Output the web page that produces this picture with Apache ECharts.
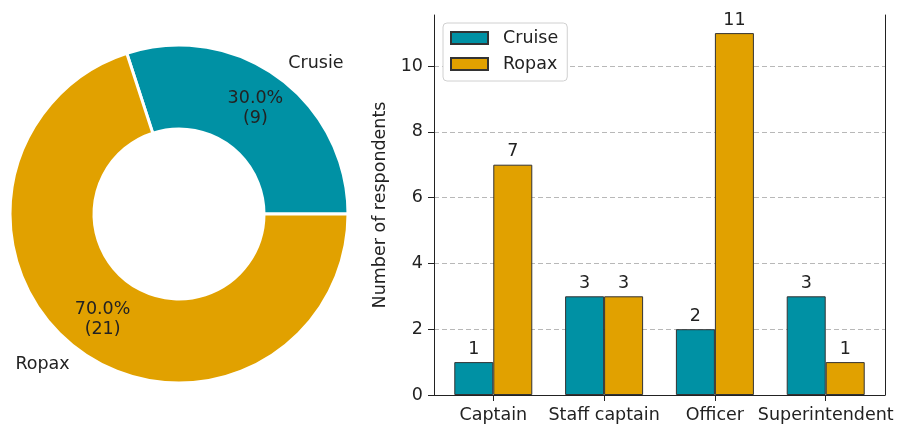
<!DOCTYPE html>
<html>
<head>
<meta charset="utf-8">
<script src="https://cdn.jsdelivr.net/npm/echarts@6/dist/echarts.min.js"></script>
<style>
  html, body { margin: 0; padding: 0; background: #fff; }
  #main { width: 897px; height: 431px; }
</style>
</head>
<body>
<div id="main"></div>
<script>
// pie data
var pieNames = ['Crusie', 'Ropax'];
var pieValues = [9, 21];

// bar data
var roles = ['Captain', 'Staff captain', 'Officer', 'Superintendent'];
var cruise = [1, 3, 2, 3];
var ropax = [7, 3, 11, 1];
var yTicks = [0, 2, 4, 6, 8, 10];

var teal = '#0091A4';
var gold = '#E1A100';
var font = 'DejaVu Sans';
var fs = 17.5;

function pairs(arr) {
    return arr.map(function (v, i) { return [i, v]; });
}

var pieData = pieNames.map(function (n, i) { return { name: n, value: pieValues[i] }; });

let option = {
    animation: false,
    textStyle: { fontFamily: font },
    legend: {
        data: ['Cruise', 'Ropax'],
        orient: 'vertical',
        left: 443,
        top: 23,
        icon: 'rect',
        itemWidth: 37,
        itemHeight: 12,
        itemGap: 8,
        padding: [6, 9, 8, 7],
        borderColor: '#d0d0d0',
        borderWidth: 1,
        borderRadius: 4,
        backgroundColor: '#fff',
        textStyle: { fontSize: fs, lineHeight: 18, color: '#222', padding: [0, 0, 0, 10] }
    },
    grid: { left: 434, right: 12, top: 15, bottom: 36 },
    xAxis: {
        type: 'value',
        min: -0.535,
        max: 3.535,
        axisLine: { show: true, lineStyle: { color: '#222' } },
        axisTick: { show: true, length: 6, customValues: [0, 1, 2, 3], lineStyle: { color: '#222' } },
        axisLabel: {
            customValues: [0, 1, 2, 3],
            fontSize: fs, color: '#222', margin: 11,
            formatter: function (v) { return roles[Math.round(v)]; }
        },
        splitLine: { show: false }
    },
    yAxis: [{
        type: 'value',
        min: 0,
        max: 11.55,
        name: 'Number of respondents',
        nameLocation: 'middle',
        nameGap: 42,
        nameTextStyle: { fontSize: fs, color: '#222' },
        axisLine: { show: true, onZero: false, lineStyle: { color: '#222' } },
        axisTick: { show: true, length: 6, customValues: yTicks, lineStyle: { color: '#222' } },
        axisLabel: { customValues: yTicks, fontSize: fs, color: '#222', margin: 11 },
        splitLine: { show: true, lineStyle: { color: '#b8b8b8', type: [5, 3] } }
    }, {
        type: 'value',
        min: 0,
        max: 11.55,
        position: 'right',
        axisLine: { show: true, onZero: false, lineStyle: { color: '#222' } },
        axisTick: { show: false },
        axisLabel: { show: false },
        splitLine: { show: false }
    }],
    series: [
        {
            name: 'Cruise',
            type: 'bar',
            data: pairs(cruise),
            barWidth: 39,
            barGap: '0%',
            itemStyle: { color: teal, borderColor: '#333', borderWidth: 1 },
            label: { show: true, position: 'top', distance: 4, fontSize: fs, color: '#222' }
        },
        {
            name: 'Ropax',
            type: 'bar',
            data: pairs(ropax),
            barWidth: 39,
            barGap: '0%',
            itemStyle: { color: gold, borderColor: '#333', borderWidth: 1 },
            label: { show: true, position: 'top', distance: 4, fontSize: fs, color: '#222' }
        },
        {
            name: 'share',
            type: 'pie',
            center: [179, 214],
            radius: [85, 169],
            startAngle: 108,
            clockwise: true,
            color: [teal, gold],
            data: pieData,
            itemStyle: { borderColor: '#fff', borderWidth: 3 },
            label: {
                show: true,
                position: 'inside',
                fontSize: fs,
                lineHeight: 20,
                color: '#222',
                formatter: function (p) { return p.percent.toFixed(1) + '%\n(' + p.value + ')'; }
            },
            labelLine: { show: false },
            silent: true
        },
        {
            name: 'names',
            type: 'pie',
            center: [179, 214],
            radius: [85, 169],
            startAngle: 108,
            clockwise: true,
            data: pieData,
            itemStyle: { color: 'rgba(0,0,0,0)', borderWidth: 0 },
            label: {
                show: true,
                position: 'outside',
                fontSize: fs,
                color: '#222',
                distanceToLabelLine: 0,
                formatter: '{b}'
            },
            labelLine: { show: false, length: 17, length2: 0 },
            silent: true
        }
    ]
};

var myChart = echarts.init(document.getElementById('main'));
myChart.setOption(option);
</script>
</body>
</html>
